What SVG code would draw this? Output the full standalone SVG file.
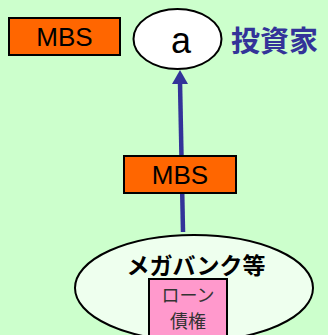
<svg xmlns="http://www.w3.org/2000/svg" width="328" height="335" viewBox="0 0 328 335">
<style>
.box{fill:#ff6600;stroke:#000;stroke-width:2}
.lbl{font-family:"Liberation Sans",Arial,sans-serif;font-size:26px;fill:#000;text-anchor:middle}
.jp{font-family:"Noto Sans CJK JP",sans-serif;font-weight:bold}
.sm{font-family:"Noto Sans CJK JP",sans-serif;font-size:18px;fill:#333;text-anchor:middle}
</style>
<rect width="328" height="335" fill="#ccffcc"/>
<g id="connectors">
<line x1="183" y1="232" x2="180" y2="82" stroke="#333399" stroke-width="4.5"/>
<polygon points="180,70 188,84 172,84" fill="#333399"/>
</g>
<g id="mbs-top">
<rect class="box" x="9" y="18" width="111" height="37"/>
<text class="lbl" x="64.5" y="46">MBS</text>
</g>
<g id="investor">
<ellipse cx="177.5" cy="39" rx="44" ry="30" fill="#fff" stroke="#000" stroke-width="2"/>
<text x="181" y="53" font-family="Liberation Sans,Arial,sans-serif" font-size="36" text-anchor="middle">a</text>
<text class="jp" x="231" y="52" font-size="29" fill="#333399">投資家</text>
</g>
<g id="mbs-mid">
<rect class="box" x="124" y="156" width="112" height="37"/>
<text class="lbl" x="180" y="184">MBS</text>
</g>
<g id="megabank">
<ellipse cx="194" cy="288" rx="119" ry="53" fill="#eeffee" stroke="#000" stroke-width="2"/>
<text class="jp" x="196" y="274" font-size="23" text-anchor="middle">メガバンク等</text>
<rect x="149" y="279" width="78" height="60" fill="#ff99cc" stroke="#000" stroke-width="2"/>
<text class="sm" x="188" y="302">ローン</text>
<text class="sm" x="188" y="328">債権</text>
</g>
</svg>
